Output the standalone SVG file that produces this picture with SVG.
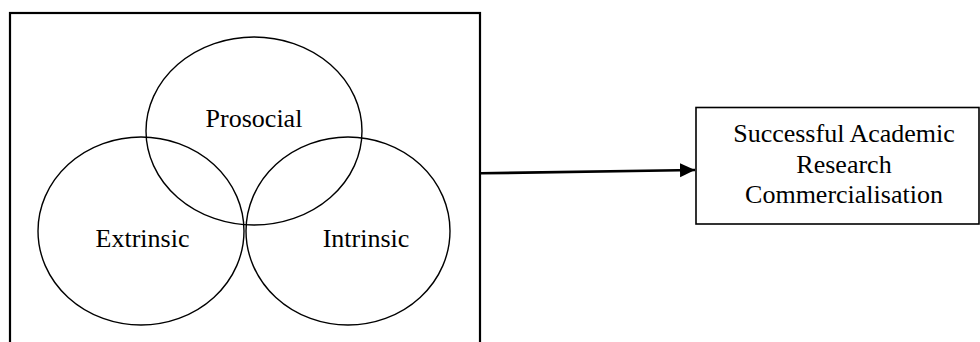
<svg xmlns="http://www.w3.org/2000/svg" width="980" height="342" viewBox="0 0 980 342">
<style>
.lbl{font-family:"Liberation Serif","Times New Roman",serif;font-size:26px;fill:#000;text-anchor:middle}
.ell{fill:none;stroke:#000;stroke-width:1.4}
.box{fill:none;stroke:#000}
</style>
<defs>
<marker id="ah" markerWidth="16" markerHeight="16" refX="15" refY="8" orient="auto" markerUnits="userSpaceOnUse">
<path d="M0,1 L15,8 L0,15 Z" fill="#000"/>
</marker>
</defs>
<rect width="980" height="342" fill="#fff"/>
<g id="motivation">
<rect class="box" x="10" y="13" width="470" height="340" stroke-width="2.2"/>
</g>
<g id="prosocial">
<ellipse class="ell" cx="254" cy="131" rx="108" ry="94"/>
<text class="lbl" x="254" y="127">Prosocial</text>
</g>
<g id="extrinsic">
<ellipse class="ell" cx="141" cy="231" rx="103" ry="94"/>
<text class="lbl" x="142.5" y="247">Extrinsic</text>
</g>
<g id="intrinsic">
<ellipse class="ell" cx="348" cy="231" rx="102" ry="94"/>
<text class="lbl" x="366" y="247">Intrinsic</text>
</g>
<g id="outcome">
<rect class="box" x="696" y="107.5" width="283" height="116.5" stroke-width="1.6"/>
<text class="lbl" x="844" y="142">Successful Academic</text>
<text class="lbl" x="844" y="173">Research</text>
<text class="lbl" x="844" y="203">Commercialisation</text>
</g>
<g id="connectors">
<line x1="481" y1="173.3" x2="695" y2="170" stroke="#000" stroke-width="2.6" marker-end="url(#ah)"/>
</g>
</svg>
